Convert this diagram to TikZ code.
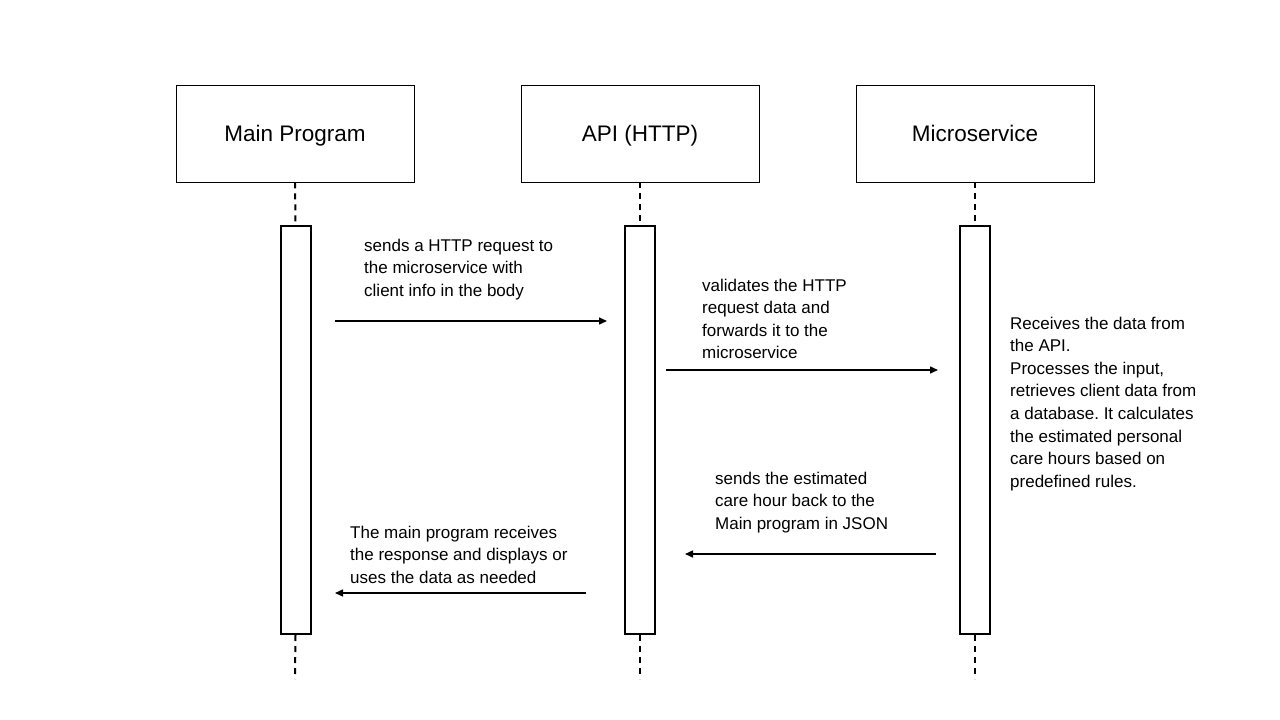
\documentclass[tikz,border=0pt]{standalone}
\usepackage{fontspec}
\setmainfont{Liberation Sans}
\usetikzlibrary{arrows.meta}
\frenchspacing
\begin{document}
\begin{tikzpicture}[x=1pt,y=-1pt,
  titlebox/.style={draw=black,line width=0.9pt,minimum width=238pt,minimum height=97pt,inner sep=0pt,text height=18pt,text depth=2pt,font=\fontsize{22.5}{26}\selectfont},
  actbox/.style={draw=black,line width=2pt,minimum width=30pt,minimum height=408pt,inner sep=0pt},
  life/.style={line width=2pt,dash pattern=on 6pt off 5pt},
  msg/.style={line width=1.5pt,-{Triangle[length=8pt,width=7pt]}},
  note/.style={anchor=base west,align=left,inner sep=0pt,font=\fontsize{17}{22.6}\selectfont}]
\useasboundingbox[fill=white] (0,0) rectangle (1280,720);
% participants
\node[titlebox] (mp) at (295,133.5) {Main Program};
\node[titlebox] (api) at (640,133.5) {API (HTTP)};
\node[titlebox] (ms) at (975,133.5) {Microservice};
% activations
\node[actbox] (am) at (295.5,430) {};
\node[actbox] (aa) at (640,430) {};
\node[actbox] (as) at (975,430) {};
% lifeline ends
\coordinate (em) at (295,679);
\coordinate (ea) at (640,679);
\coordinate (es) at (975,679);
\draw[life] (mp.south) -- (am.north);
\draw[life] (api.south) -- (aa.north);
\draw[life] (ms.south) -- (as.north);
\draw[life] (am.south) -- (em);
\draw[life] (aa.south) -- (ea);
\draw[life] (as.south) -- (es);
% message ends
\coordinate (m1s) at (335,321); \coordinate (m1e) at (607,321);
\coordinate (m2s) at (666,370); \coordinate (m2e) at (938,370);
\coordinate (m3s) at (936,554); \coordinate (m3e) at (685,554);
\coordinate (m4s) at (586,593); \coordinate (m4e) at (335,593);
\draw[msg] (m1s) -- (m1e);
\draw[msg] (m2s) -- (m2e);
\draw[msg] (m3s) -- (m3e);
\draw[msg] (m4s) -- (m4e);
% labels (anchored at the baseline of the last line)
\node[note] (t1) at (364,296.2) {sends a HTTP request to\\the microservice with\\client info in the body};
\node[note] (t2) at (702,358.8) {validates the HTTP\\request data and\\forwards it to the\\microservice};
\node[note] (t3) at (1010,487.2) {Receives the data from\\the API.\\Processes the input,\\retrieves client data from\\a database. It calculates\\the estimated personal\\care hours based on\\predefined rules.};
\node[note] (t4) at (715,529.2) {sends the estimated\\care hour back to the\\Main program in JSON};
\node[note] (t5) at (350,583.2) {The main program receives\\the response and displays or\\uses the data as needed};
\end{tikzpicture}
\end{document}
